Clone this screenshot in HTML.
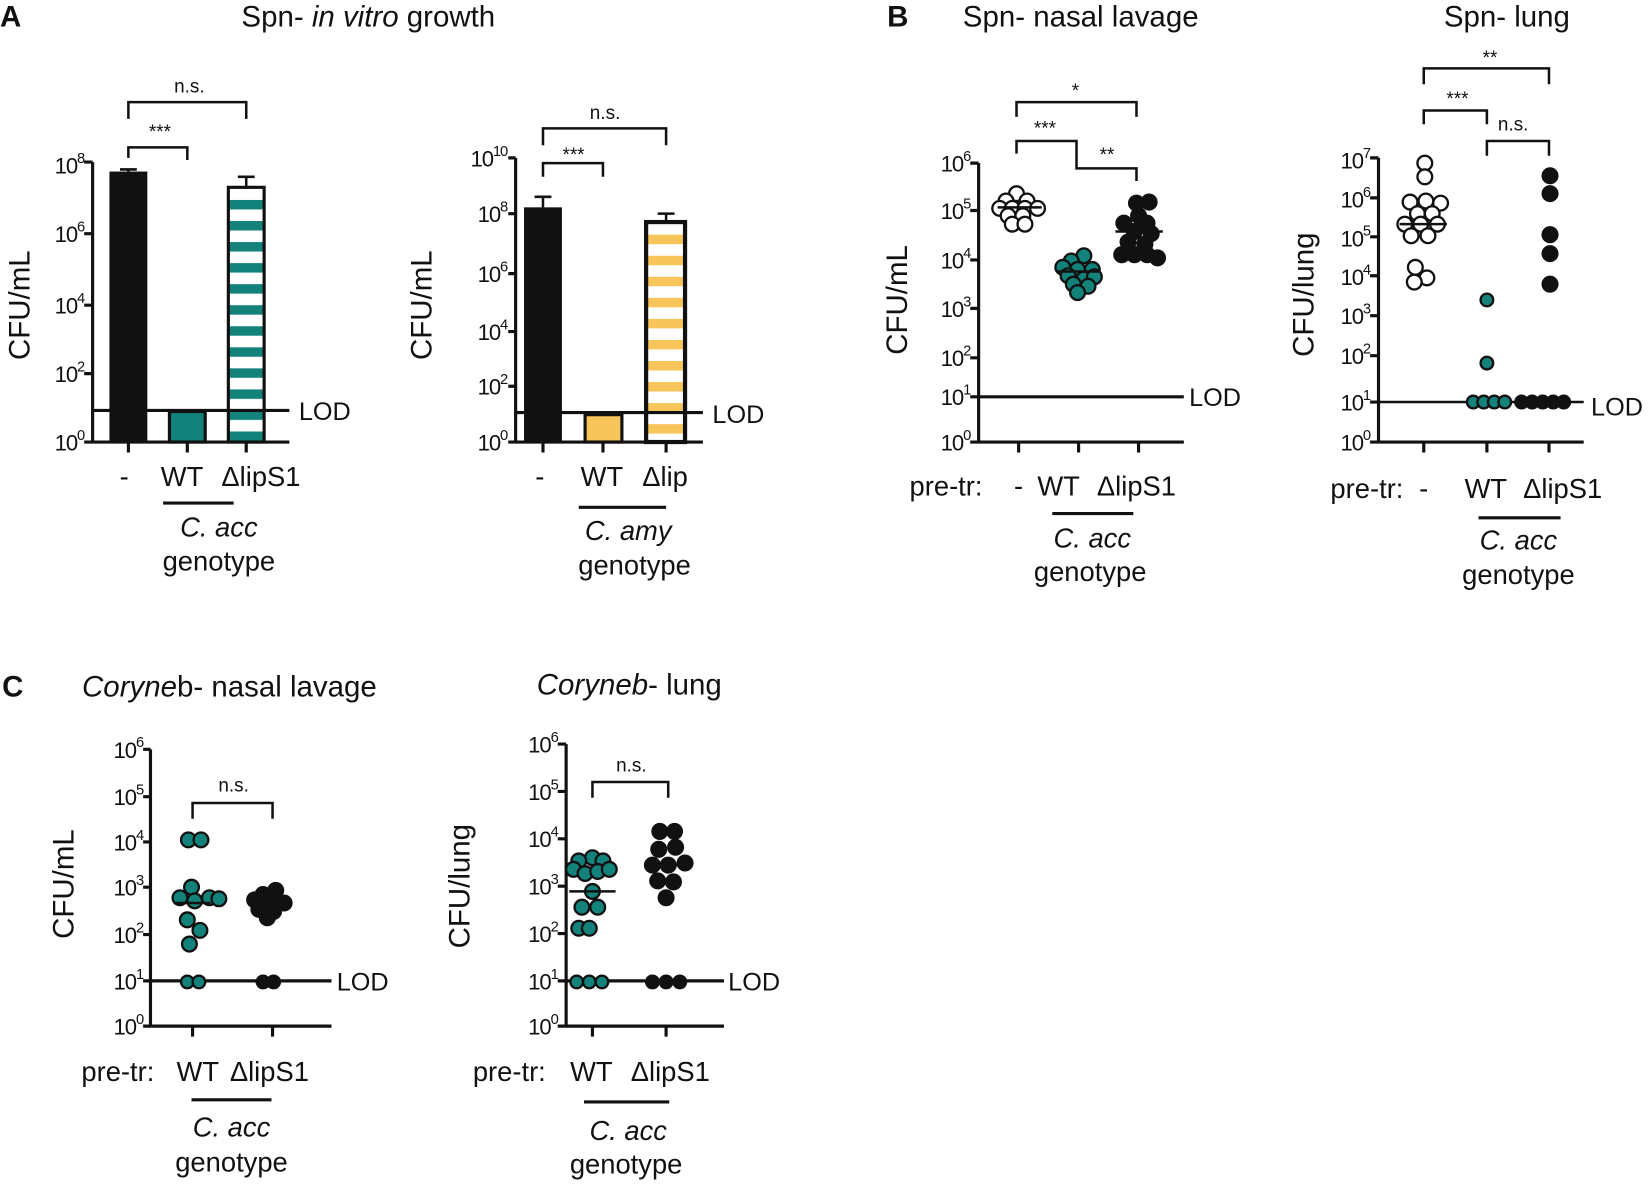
<!DOCTYPE html>
<html><head><meta charset="utf-8"><style>
html,body{margin:0;padding:0;background:#fff}
svg{display:block}
text{font-family:"Liberation Sans",sans-serif;fill:#111}
.t{font-size:28px}
.tk{font-size:21px;text-anchor:end;letter-spacing:-1px}
.sp{font-size:14px}
.cat{font-size:26px;text-anchor:middle}
.st{font-size:18px;text-anchor:middle}
.yl{font-size:28px;text-anchor:middle}
.ax{stroke:#111;stroke-width:3;fill:none}
.br{stroke:#111;stroke-width:2.4;fill:none}
.o{fill:#fff;stroke:#111;stroke-width:2.2}
.g{fill:#13827a;stroke:#111;stroke-width:2.2}
.k{fill:#111;stroke:#111;stroke-width:2.2}
</style></head><body>
<svg width="1650" height="1184" viewBox="0 0 1568 1125" preserveAspectRatio="none" xmlns="http://www.w3.org/2000/svg">
<defs>
<pattern id="pt" patternUnits="userSpaceOnUse" width="40" height="20" y="170"><rect width="40" height="20" fill="#fff"/><rect width="40" height="9" fill="#13827a"/></pattern>
<pattern id="py" patternUnits="userSpaceOnUse" width="40" height="20" y="203"><rect width="40" height="20" fill="#fff"/><rect width="40" height="9" fill="#f7c55a"/></pattern>
</defs>

<!-- Panel A1 -->
<text x="0" y="25" style="font-size:28px;font-weight:bold">A</text>
<text x="350" y="25" class="t" text-anchor="middle">Spn- <tspan font-style="italic">in vitro</tspan> growth</text>
<text class="yl" transform="translate(28,290) rotate(-90)">CFU/mL</text>
<g class="tk">
<text x="80" y="165">10<tspan class="sp" dy="-10">8</tspan></text>
<text x="80" y="230">10<tspan class="sp" dy="-10">6</tspan></text>
<text x="80" y="298">10<tspan class="sp" dy="-10">4</tspan></text>
<text x="80" y="363">10<tspan class="sp" dy="-10">2</tspan></text>
<text x="80" y="428">10<tspan class="sp" dy="-10">0</tspan></text>
</g>
<rect x="104" y="163" width="36" height="257" fill="#111"/>
<path class="br" d="M122 163V161M114 161H130"/>
<rect x="161" y="391" width="34" height="29" fill="#13827a" stroke="#111" stroke-width="3"/>
<rect x="217" y="178" width="34" height="242" fill="url(#pt)" stroke="#111" stroke-width="3"/>
<path class="br" d="M234 178V168M226 168H242"/>
<path class="ax" d="M88 154V420H275M80 154H88M80 222H88M80 290H88M80 355H88M80 420H88M122 420V430M178 420V430M234 420V430"/>
<path class="ax" d="M88 390H275"/>
<text x="284" y="399" style="font-size:24px">LOD</text>
<path class="br" d="M122 113V97H234V113M122 150V140H178V152"/>
<text x="180" y="88" class="st">n.s.</text>
<text x="152" y="131" class="st">***</text>
<text x="118" y="462" class="cat">-</text>
<text x="173" y="462" class="cat">WT</text>
<text x="248" y="462" class="cat">ΔlipS1</text>
<path class="ax" d="M155 478H222"/>
<text x="208" y="510" class="cat" font-style="italic">C. acc</text>
<text x="208" y="542" class="cat">genotype</text>

<!-- Panel A2 -->
<text class="yl" transform="translate(410,290) rotate(-90)">CFU/mL</text>
<g class="tk">
<text x="482" y="158">10<tspan class="sp" dy="-10">10</tspan></text>
<text x="482" y="211">10<tspan class="sp" dy="-10">8</tspan></text>
<text x="482" y="268">10<tspan class="sp" dy="-10">6</tspan></text>
<text x="482" y="323">10<tspan class="sp" dy="-10">4</tspan></text>
<text x="482" y="375">10<tspan class="sp" dy="-10">2</tspan></text>
<text x="482" y="428">10<tspan class="sp" dy="-10">0</tspan></text>
</g>
<rect x="498" y="197" width="36" height="223" fill="#111"/>
<path class="br" d="M516 197V187M508 187H524"/>
<rect x="556" y="394" width="35" height="26" fill="#f7c55a" stroke="#111" stroke-width="3"/>
<rect x="614" y="211" width="37" height="209" fill="url(#py)" stroke="#111" stroke-width="4"/>
<path class="br" d="M633 211V203M625 203H641"/>
<path class="ax" d="M490 150V420H668M483 150H490M483 203H490M483 260H490M483 315H490M483 367H490M483 420H490M516 420V430M573 420V430M633 420V430"/>
<path class="ax" d="M490 392H668"/>
<text x="677" y="402" style="font-size:24px">LOD</text>
<path class="br" d="M516 138V122H633V138M516 168V155H573V168"/>
<text x="575" y="113" class="st">n.s.</text>
<text x="545" y="153" class="st">***</text>
<text x="513" y="462" class="cat">-</text>
<text x="572" y="462" class="cat">WT</text>
<text x="632" y="462" class="cat">Δlip</text>
<path class="ax" d="M550 482H633"/>
<text x="597" y="513" class="cat" font-style="italic">C. amy</text>
<text x="603" y="546" class="cat">genotype</text>

<!-- Panel B1 -->
<text x="843" y="25" style="font-size:28px;font-weight:bold">B</text>
<text x="1027" y="25" class="t" text-anchor="middle">Spn- nasal lavage</text>
<text class="yl" transform="translate(862,285) rotate(-90)">CFU/mL</text>
<g class="tk">
<text x="922" y="163">10<tspan class="sp" dy="-10">6</tspan></text>
<text x="922" y="208">10<tspan class="sp" dy="-10">5</tspan></text>
<text x="922" y="255">10<tspan class="sp" dy="-10">4</tspan></text>
<text x="922" y="301">10<tspan class="sp" dy="-10">3</tspan></text>
<text x="922" y="348">10<tspan class="sp" dy="-10">2</tspan></text>
<text x="922" y="385">10<tspan class="sp" dy="-10">1</tspan></text>
<text x="922" y="428">10<tspan class="sp" dy="-10">0</tspan></text>
</g>
<path class="ax" d="M930 155V420H1125M922 155H930M922 200H930M922 247H930M922 293H930M922 340H930M922 377H930M922 420H930M968 420V430M1025 420V430M1082 420V430"/>
<path class="ax" d="M930 377H1125"/>
<text x="1130" y="386" style="font-size:24px">LOD</text>
<path class="br" d="M966 111V97H1080V111M966 146V134H1023V146M1023 146V160H1080V172"/>
<text x="1022" y="92" class="st">*</text>
<text x="993" y="128" class="st">***</text>
<text x="1052" y="153" class="st">**</text>
<g>
<circle class="o" cx="966" cy="184" r="7"/><circle class="o" cx="956" cy="191" r="7"/><circle class="o" cx="976" cy="191" r="7"/>
<circle class="o" cx="950" cy="198" r="7"/><circle class="o" cx="962" cy="198" r="7"/><circle class="o" cx="974" cy="198" r="7"/><circle class="o" cx="986" cy="198" r="7"/>
<circle class="o" cx="958" cy="205" r="7"/><circle class="o" cx="972" cy="205" r="7"/>
<circle class="o" cx="962" cy="213" r="7"/><circle class="o" cx="974" cy="213" r="7"/>
<path class="br" d="M948 197H990"/>
</g>
<g>
<circle class="g" cx="1030" cy="243" r="7"/><circle class="g" cx="1018" cy="248" r="7"/><circle class="g" cx="1010" cy="254" r="7"/><circle class="g" cx="1024" cy="256" r="7"/><circle class="g" cx="1038" cy="256" r="7"/>
<circle class="g" cx="1015" cy="262" r="7"/><circle class="g" cx="1030" cy="265" r="7"/><circle class="g" cx="1040" cy="263" r="7"/>
<circle class="g" cx="1020" cy="270" r="7"/><circle class="g" cx="1034" cy="272" r="7"/><circle class="g" cx="1024" cy="278" r="7"/>
<path class="br" d="M1005 258H1045"/>
</g>
<g>
<circle class="k" cx="1080" cy="193" r="7"/><circle class="k" cx="1092" cy="192" r="7"/><circle class="k" cx="1082" cy="205" r="7"/>
<circle class="k" cx="1068" cy="212" r="7"/><circle class="k" cx="1090" cy="212" r="7"/><circle class="k" cx="1078" cy="220" r="7"/><circle class="k" cx="1094" cy="222" r="7"/>
<circle class="k" cx="1072" cy="230" r="7"/><circle class="k" cx="1088" cy="232" r="7"/>
<circle class="k" cx="1066" cy="242" r="7"/><circle class="k" cx="1078" cy="242" r="7"/><circle class="k" cx="1090" cy="242" r="7"/><circle class="k" cx="1100" cy="245" r="7"/>
<path class="br" d="M1060 220H1105"/>
</g>
<text x="899" y="471" class="cat">pre-tr:</text>
<text x="968" y="471" class="cat">-</text>
<text x="1006" y="471" class="cat">WT</text>
<text x="1080" y="471" class="cat">ΔlipS1</text>
<path class="ax" d="M1000 488H1077"/>
<text x="1038" y="520" class="cat" font-style="italic">C. acc</text>
<text x="1036" y="552" class="cat">genotype</text>

<!-- Panel B2 -->
<text x="1432" y="25" class="t" text-anchor="middle">Spn- lung</text>
<text class="yl" transform="translate(1248,280) rotate(-90)">CFU/lung</text>
<g class="tk">
<text x="1302" y="160">10<tspan class="sp" dy="-10">7</tspan></text>
<text x="1302" y="197">10<tspan class="sp" dy="-10">6</tspan></text>
<text x="1302" y="234">10<tspan class="sp" dy="-10">5</tspan></text>
<text x="1302" y="271">10<tspan class="sp" dy="-10">4</tspan></text>
<text x="1302" y="308">10<tspan class="sp" dy="-10">3</tspan></text>
<text x="1302" y="346">10<tspan class="sp" dy="-10">2</tspan></text>
<text x="1302" y="390">10<tspan class="sp" dy="-10">1</tspan></text>
<text x="1302" y="428">10<tspan class="sp" dy="-10">0</tspan></text>
</g>
<path class="ax" d="M1310 150V420H1505M1302 150H1310M1302 188H1310M1302 225H1310M1302 262H1310M1302 300H1310M1302 338H1310M1302 382H1310M1302 420H1310M1353 420V430M1413 420V430M1472 420V430"/>
<path class="br" d="M1310 382H1505"/>
<text x="1512" y="395" style="font-size:24px">LOD</text>
<path class="br" d="M1353 80V65H1472V80M1353 118V105H1413V118M1413 148V134H1472V148"/>
<text x="1416" y="61" class="st">**</text>
<text x="1385" y="100" class="st">***</text>
<text x="1438" y="124" class="st">n.s.</text>
<g>
<circle class="o" cx="1354" cy="155" r="7"/><circle class="o" cx="1354" cy="168" r="7"/>
<circle class="o" cx="1340" cy="192" r="7"/><circle class="o" cx="1355" cy="191" r="7"/><circle class="o" cx="1369" cy="193" r="7"/>
<circle class="o" cx="1347" cy="203" r="7"/><circle class="o" cx="1361" cy="203" r="7"/>
<circle class="o" cx="1335" cy="213" r="7"/><circle class="o" cx="1350" cy="213" r="7"/><circle class="o" cx="1366" cy="213" r="7"/>
<circle class="o" cx="1341" cy="224" r="7"/><circle class="o" cx="1357" cy="224" r="7"/>
<circle class="o" cx="1345" cy="254" r="7"/><circle class="o" cx="1356" cy="264" r="7"/><circle class="o" cx="1344" cy="268" r="7"/>
<path class="br" d="M1330 213H1375"/>
</g>
<g>
<circle class="g" cx="1413" cy="285" r="6"/><circle class="g" cx="1413" cy="345" r="6"/>
<circle class="g" cx="1400" cy="382" r="6"/><circle class="g" cx="1410" cy="382" r="6"/><circle class="g" cx="1420" cy="382" r="6"/><circle class="g" cx="1430" cy="382" r="6"/>
</g>
<g>
<circle class="k" cx="1473" cy="167" r="7"/><circle class="k" cx="1473" cy="184" r="7"/><circle class="k" cx="1473" cy="223" r="7"/><circle class="k" cx="1473" cy="241" r="7"/><circle class="k" cx="1473" cy="270" r="7"/>
<circle class="k" cx="1446" cy="382" r="6"/><circle class="k" cx="1456" cy="382" r="6"/><circle class="k" cx="1466" cy="382" r="6"/><circle class="k" cx="1476" cy="382" r="6"/><circle class="k" cx="1486" cy="382" r="6"/>
</g>
<text x="1299" y="473" class="cat">pre-tr:</text>
<text x="1353" y="473" class="cat">-</text>
<text x="1412" y="473" class="cat">WT</text>
<text x="1485" y="473" class="cat">ΔlipS1</text>
<path class="ax" d="M1405 492H1483"/>
<text x="1443" y="522" class="cat" font-style="italic">C. acc</text>
<text x="1443" y="555" class="cat">genotype</text>

<!-- Panel C1 -->
<text x="2" y="662" style="font-size:28px;font-weight:bold">C</text>
<text x="218" y="662" class="t" text-anchor="middle"><tspan font-style="italic">Coryne</tspan>b- nasal lavage</text>
<text class="yl" transform="translate(70,840) rotate(-90)">CFU/mL</text>
<g class="tk">
<text x="136" y="720">10<tspan class="sp" dy="-10">6</tspan></text>
<text x="136" y="765">10<tspan class="sp" dy="-10">5</tspan></text>
<text x="136" y="808">10<tspan class="sp" dy="-10">4</tspan></text>
<text x="136" y="851">10<tspan class="sp" dy="-10">3</tspan></text>
<text x="136" y="896">10<tspan class="sp" dy="-10">2</tspan></text>
<text x="136" y="940">10<tspan class="sp" dy="-10">1</tspan></text>
<text x="136" y="983">10<tspan class="sp" dy="-10">0</tspan></text>
</g>
<path class="ax" d="M143 712V975H315M136 712H143M136 757H143M136 800H143M136 843H143M136 888H143M136 932H143M136 975H143M183 975V985M259 975V985"/>
<path class="ax" d="M143 932H315"/>
<text x="320" y="941" style="font-size:24px">LOD</text>
<path class="br" d="M183 778V763H259V778"/>
<text x="222" y="752" class="st">n.s.</text>
<g>
<circle class="g" cx="179" cy="798" r="7"/><circle class="g" cx="191" cy="798" r="7"/>
<circle class="g" cx="182" cy="843" r="7"/><circle class="g" cx="171" cy="853" r="7"/><circle class="g" cx="185" cy="856" r="7"/><circle class="g" cx="199" cy="853" r="7"/><circle class="g" cx="208" cy="854" r="7"/>
<circle class="g" cx="178" cy="874" r="7"/><circle class="g" cx="190" cy="884" r="7"/><circle class="g" cx="180" cy="897" r="7"/>
<circle class="g" cx="178" cy="933" r="6"/><circle class="g" cx="189" cy="933" r="6"/>
<path class="br" d="M165 858H200"/>
</g>
<g>
<circle class="k" cx="262" cy="846" r="7"/><circle class="k" cx="250" cy="850" r="7"/><circle class="k" cx="242" cy="855" r="7"/><circle class="k" cx="256" cy="857" r="7"/><circle class="k" cx="270" cy="858" r="7"/>
<circle class="k" cx="246" cy="864" r="7"/><circle class="k" cx="260" cy="866" r="7"/><circle class="k" cx="254" cy="872" r="7"/>
<circle class="k" cx="250" cy="933" r="6"/><circle class="k" cx="260" cy="933" r="6"/>
</g>
<text x="112" y="1027" class="cat">pre-tr:</text>
<text x="188" y="1027" class="cat">WT</text>
<text x="256" y="1027" class="cat">ΔlipS1</text>
<path class="ax" d="M182 1045H258"/>
<text x="220" y="1080" class="cat" font-style="italic">C. acc</text>
<text x="220" y="1113" class="cat">genotype</text>

<!-- Panel C2 -->
<text x="598" y="660" class="t" text-anchor="middle"><tspan font-style="italic">Coryneb</tspan>- lung</text>
<text class="yl" transform="translate(446,842) rotate(-90)">CFU/lung</text>
<g class="tk">
<text x="530" y="715">10<tspan class="sp" dy="-10">6</tspan></text>
<text x="530" y="760">10<tspan class="sp" dy="-10">5</tspan></text>
<text x="530" y="805">10<tspan class="sp" dy="-10">4</tspan></text>
<text x="530" y="850">10<tspan class="sp" dy="-10">3</tspan></text>
<text x="530" y="895">10<tspan class="sp" dy="-10">2</tspan></text>
<text x="530" y="940">10<tspan class="sp" dy="-10">1</tspan></text>
<text x="530" y="983">10<tspan class="sp" dy="-10">0</tspan></text>
</g>
<path class="ax" d="M538 707V975H688M530 707H538M530 752H538M530 797H538M530 842H538M530 887H538M530 932H538M530 975H538M563 975V985M633 975V985"/>
<path class="ax" d="M538 932H688"/>
<text x="692" y="941" style="font-size:24px">LOD</text>
<path class="br" d="M563 758V743H635V758"/>
<text x="600" y="733" class="st">n.s.</text>
<g>
<circle class="g" cx="563" cy="815" r="7"/><circle class="g" cx="573" cy="818" r="7"/><circle class="g" cx="550" cy="818" r="7"/>
<circle class="g" cx="545" cy="826" r="7"/><circle class="g" cx="556" cy="830" r="7"/><circle class="g" cx="568" cy="828" r="7"/><circle class="g" cx="579" cy="826" r="7"/>
<circle class="g" cx="563" cy="847" r="7"/><circle class="g" cx="553" cy="862" r="7"/><circle class="g" cx="568" cy="862" r="7"/>
<circle class="g" cx="550" cy="882" r="7"/><circle class="g" cx="560" cy="882" r="7"/>
<circle class="g" cx="548" cy="933" r="6"/><circle class="g" cx="560" cy="933" r="6"/><circle class="g" cx="572" cy="933" r="6"/>
<path class="br" d="M541 847H585"/>
</g>
<g>
<circle class="k" cx="627" cy="790" r="7"/><circle class="k" cx="641" cy="790" r="7"/><circle class="k" cx="626" cy="807" r="7"/><circle class="k" cx="642" cy="805" r="7"/>
<circle class="k" cx="620" cy="822" r="7"/><circle class="k" cx="635" cy="822" r="7"/><circle class="k" cx="651" cy="820" r="7"/>
<circle class="k" cx="625" cy="837" r="7"/><circle class="k" cx="640" cy="838" r="7"/><circle class="k" cx="633" cy="853" r="7"/>
<circle class="k" cx="620" cy="933" r="6"/><circle class="k" cx="633" cy="933" r="6"/><circle class="k" cx="646" cy="933" r="6"/>
<path class="br" d="M612 822H652"/>
</g>
<text x="484" y="1027" class="cat">pre-tr:</text>
<text x="562" y="1027" class="cat">WT</text>
<text x="637" y="1027" class="cat">ΔlipS1</text>
<path class="ax" d="M555 1047H636"/>
<text x="597" y="1083" class="cat" font-style="italic">C. acc</text>
<text x="595" y="1115" class="cat">genotype</text>
</svg>
</body></html>
